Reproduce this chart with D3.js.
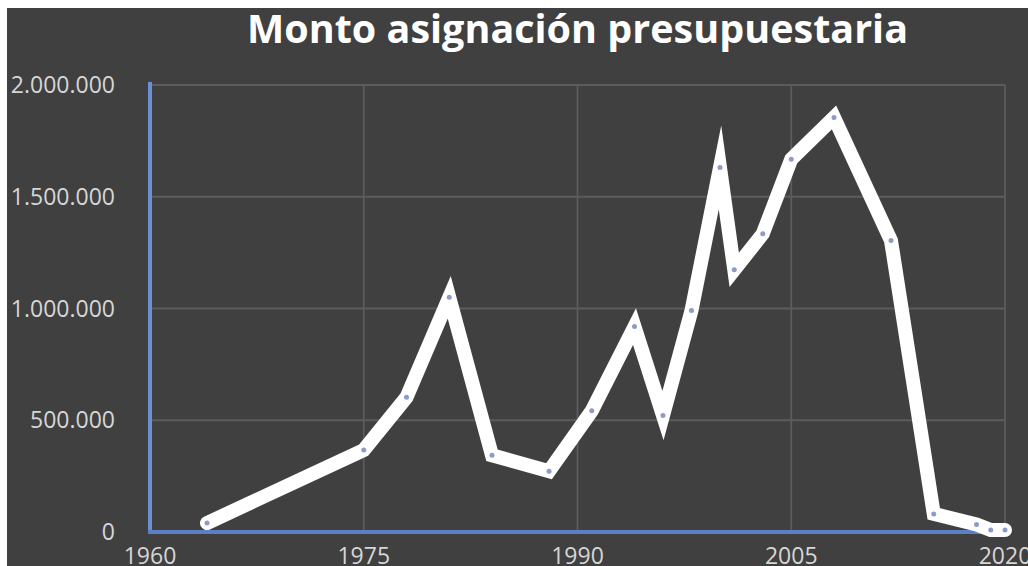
<!DOCTYPE html>
<html>
<head>
<meta charset="utf-8">
<script src="https://cdn.jsdelivr.net/npm/d3@7"></script>
<style>
  html, body { margin: 0; padding: 0; background: #ffffff; }
  svg { display: block; }
</style>
</head>
<body>
<svg id="chart" width="1028" height="566"></svg>
<script>
const titleText = "Monto asignación presupuestaria";
const years = [1964, 1975, 1978, 1981, 1984, 1988, 1991, 1994, 1996, 1998, 2000, 2001, 2003, 2005, 2008, 2012, 2015, 2018, 2019, 2020];
const values = [40000, 367000, 603000, 1050000, 343000, 272000, 542000, 919000, 521000, 991000, 1631000, 1173000, 1334000, 1668000, 1855000, 1304000, 81000, 34000, 9000, 9000];
const xTicks = [1960, 1975, 1990, 2005, 2020];
const yTicks = [0, 500000, 1000000, 1500000, 2000000];
const yTickLabels = ["0", "500.000", "1.000.000", "1.500.000", "2.000.000"];

const svg = d3.select("#chart");
const W = 1028, H = 566;

// background (white margin top/left)
svg.append("rect").attr("x", 7).attr("y", 8).attr("width", W - 7).attr("height", H - 8).attr("fill", "#404040");

const x = d3.scaleLinear().domain([1960, 2020]).range([150, 1005]);
const y = d3.scaleLinear().domain([0, 2000000]).range([532, 85]);

// gridlines
const grid = svg.append("g");
grid.selectAll("line.h").data(yTicks.slice(1)).join("line")
  .attr("x1", x(1960)).attr("x2", x(2020))
  .attr("y1", d => y(d)).attr("y2", d => y(d))
  .attr("stroke", "#5c5c5c").attr("stroke-width", 1.8);
grid.selectAll("line.v").data(xTicks.slice(1)).join("line")
  .attr("x1", d => x(d)).attr("x2", d => x(d))
  .attr("y1", y(2000000)).attr("y2", y(0))
  .attr("stroke", "#5c5c5c").attr("stroke-width", 1.8);

// axes lines (blue)
svg.append("line").attr("x1", x(1960)).attr("x2", x(1960)).attr("y1", 82).attr("y2", y(0) + 2)
  .attr("stroke", "#6b91d2").attr("stroke-width", 4);
svg.append("line").attr("x1", x(1960) - 2).attr("x2", x(2020)).attr("y1", y(0)).attr("y2", y(0))
  .attr("stroke", "#5b7fc0").attr("stroke-width", 4);

// y labels
svg.append("g").selectAll("text").data(yTicks).join("text")
  .attr("x", 115).attr("y", d => y(d)).attr("dy", "0.35em")
  .attr("text-anchor", "end")
  .attr("font-family", "'Open Sans', sans-serif").attr("font-size", 23)
  .attr("fill", "#d6d6d6")
  .text((d, i) => yTickLabels[i]);

// x labels
svg.append("g").selectAll("text").data(xTicks).join("text")
  .attr("x", d => x(d)).attr("y", 564)
  .attr("text-anchor", "middle")
  .attr("font-family", "'Open Sans', sans-serif").attr("font-size", 23)
  .attr("fill", "#d6d6d6")
  .text(d => d);

// line
const data = years.map((yr, i) => ({ year: yr, value: values[i] }));
const line = d3.line().x(d => x(d.year)).y(d => y(d.value));
svg.append("path").datum(data).attr("d", line)
  .attr("fill", "none").attr("stroke", "#ffffff").attr("stroke-width", 14)
  .attr("stroke-linejoin", "miter").attr("stroke-miterlimit", 10)
  .attr("stroke-linecap", "round");

svg.append("g").selectAll("circle").data(data).join("circle")
  .attr("cx", d => x(d.year)).attr("cy", d => y(d.value)).attr("r", 2.5)
  .attr("fill", "#8e9bc6");

// title
svg.append("text")
  .attr("x", 577.5).attr("y", 43)
  .attr("text-anchor", "middle")
  .attr("font-family", "'Open Sans', sans-serif").attr("font-weight", "bold").attr("font-size", 39)
  .attr("fill", "#ffffff")
  .attr("textLength", 661).attr("lengthAdjust", "spacingAndGlyphs")
  .text(titleText);
</script>
</body>
</html>
